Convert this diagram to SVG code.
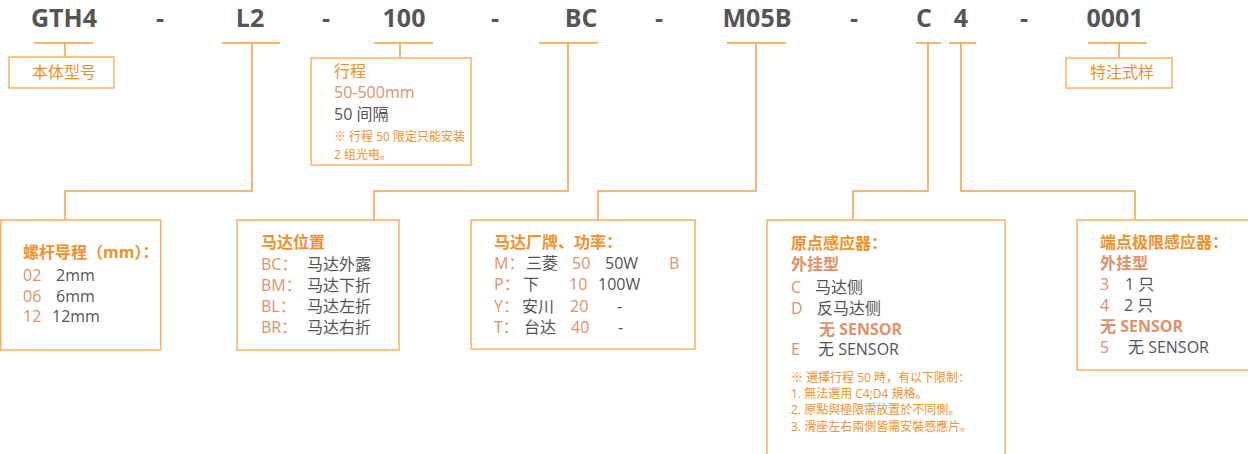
<svg xmlns="http://www.w3.org/2000/svg" width="1248" height="454" viewBox="0 0 1248 454">
<style>
text{font-family:"Open Sans","Noto Sans CJK SC",sans-serif;}
.code{font-size:25px;font-weight:bold;fill:#555555;text-anchor:middle;}
.ln{fill:none;stroke:#f5a03c;stroke-width:1.5;}
.box{fill:#ffffff;stroke:#f8b264;stroke-width:1.5;}
.h{font-size:16px;font-weight:bold;fill:#f0912a;}
.hs{font-size:16px;font-weight:bold;fill:#e0926a;}
.k{font-size:16px;fill:#e0926a;}
.v{font-size:16px;fill:#555555;}
.o{font-size:16px;fill:#f0912a;}
.n{font-size:12px;fill:#f0912a;}
</style>
<g id="codes">
<text class="code" x="64" y="27">GTH4</text>
<text class="code" x="160" y="27">-</text>
<text class="code" x="250" y="27">L2</text>
<text class="code" x="326" y="27">-</text>
<text class="code" x="404" y="27">100</text>
<text class="code" x="495" y="27">-</text>
<text class="code" x="581" y="27">BC</text>
<text class="code" x="659" y="27">-</text>
<text class="code" x="757" y="27">M05B</text>
<text class="code" x="854" y="27">-</text>
<text class="code" x="924" y="27">C</text>
<text class="code" x="961" y="27">4</text>
<text class="code" x="1024" y="27">-</text>
<text class="code" x="1115" y="27">0001</text>
</g>
<g id="connectors">
<path class="ln" d="M34 43H93M65 43V57"/>
<path class="ln" d="M222 43H280M252 43V191H65V220"/>
<path class="ln" d="M374 43H433M400 43V58"/>
<path class="ln" d="M539 43H598M568 43V191H374V220"/>
<path class="ln" d="M727 43H786M756 43V191H598V220"/>
<path class="ln" d="M916 43H941M928 43V191H853V220"/>
<path class="ln" d="M949 43H976M961 43V191H1135V220"/>
<path class="ln" d="M1088 43H1147M1119 43V58"/>
</g>
<g id="node-body">
<rect class="box" x="9" y="57" width="105" height="31"/>
<text class="o" x="32" y="78">本体型号</text>
</g>
<g id="node-stroke">
<rect class="box" x="311" y="58" width="160" height="107"/>
<text class="o" x="334" y="77">行程</text>
<text class="k" x="334" y="98">50-500mm</text>
<text class="v" x="334" y="120">50 间隔</text>
<text class="n" x="334" y="141">※ 行程 50 限定只能安装</text>
<text class="n" x="334" y="159">2 组光电。</text>
</g>
<g id="node-special">
<rect class="box" x="1066" y="58" width="106" height="30"/>
<text class="o" x="1090" y="78">特注式样</text>
</g>
<g id="node-lead">
<rect class="box" x="0.75" y="220" width="160" height="130"/>
<text class="h" x="23" y="258">螺杆导程（mm）：</text>
<text class="k" x="23" y="281">02</text><text class="v" x="56" y="281">2mm</text>
<text class="k" x="23" y="302">06</text><text class="v" x="56" y="302">6mm</text>
<text class="k" x="23" y="322">12</text><text class="v" x="52" y="322">12mm</text>
</g>
<g id="node-motorpos">
<rect class="box" x="237" y="220" width="162" height="130"/>
<text class="h" x="261" y="248">马达位置</text>
<text class="k" x="261" y="270">BC：</text><text class="v" x="307" y="270">马达外露</text>
<text class="k" x="261" y="291">BM：</text><text class="v" x="307" y="291">马达下折</text>
<text class="k" x="261" y="312">BL：</text><text class="v" x="307" y="312">马达左折</text>
<text class="k" x="261" y="333">BR：</text><text class="v" x="307" y="333">马达右折</text>
</g>
<g id="node-motorbrand">
<rect class="box" x="471" y="220" width="224" height="129"/>
<text class="h" x="494" y="248">马达厂牌、功率：</text>
<text class="k" x="494" y="269">M：</text><text class="v" x="526" y="269">三菱</text><text class="k" x="572" y="269">50</text><text class="v" x="605" y="269">50W</text><text class="k" x="669" y="269">B</text>
<text class="k" x="494" y="290">P：</text><text class="v" x="523" y="290">下</text><text class="k" x="569" y="290">10</text><text class="v" x="598" y="290">100W</text>
<text class="k" x="494" y="312">Y：</text><text class="v" x="522" y="312">安川</text><text class="k" x="570" y="312">20</text><text class="v" x="617" y="312">-</text>
<text class="k" x="494" y="333">T：</text><text class="v" x="524" y="333">台达</text><text class="k" x="571" y="333">40</text><text class="v" x="618" y="333">-</text>
</g>
<g id="node-origin">
<path class="box" d="M767 460V220H1005V460"/>
<text class="h" x="791" y="249">原点感应器：</text>
<text class="hs" x="791" y="270">外挂型</text>
<text class="k" x="791" y="293">C</text><text class="v" x="815" y="293">马达侧</text>
<text class="k" x="791" y="314">D</text><text class="v" x="817" y="314">反马达侧</text>
<text class="hs" x="819" y="335">无 SENSOR</text>
<text class="k" x="791" y="355">E</text><text class="v" x="818" y="355">无 SENSOR</text>
<text class="n" x="791" y="382">※ 選擇行程 50 時，有以下限制：</text>
<text class="n" x="791" y="398">1. 無法選用 C4;D4 規格。</text>
<text class="n" x="791" y="414">2. 原點與極限需放置於不同側。</text>
<text class="n" x="791" y="431">3. 滑座左右兩側皆需安裝感應片。</text>
</g>
<g id="node-limit">
<path class="box" d="M1252 220H1077V370H1252"/>
<text class="h" x="1100" y="248">端点极限感应器：</text>
<text class="hs" x="1100" y="269">外挂型</text>
<text class="k" x="1100" y="290">3</text><text class="v" x="1125" y="290">1 只</text>
<text class="k" x="1100" y="311">4</text><text class="v" x="1124" y="311">2 只</text>
<text class="hs" x="1100" y="332">无 SENSOR</text>
<text class="k" x="1100" y="353">5</text><text class="v" x="1128" y="353">无 SENSOR</text>
</g>
</svg>
